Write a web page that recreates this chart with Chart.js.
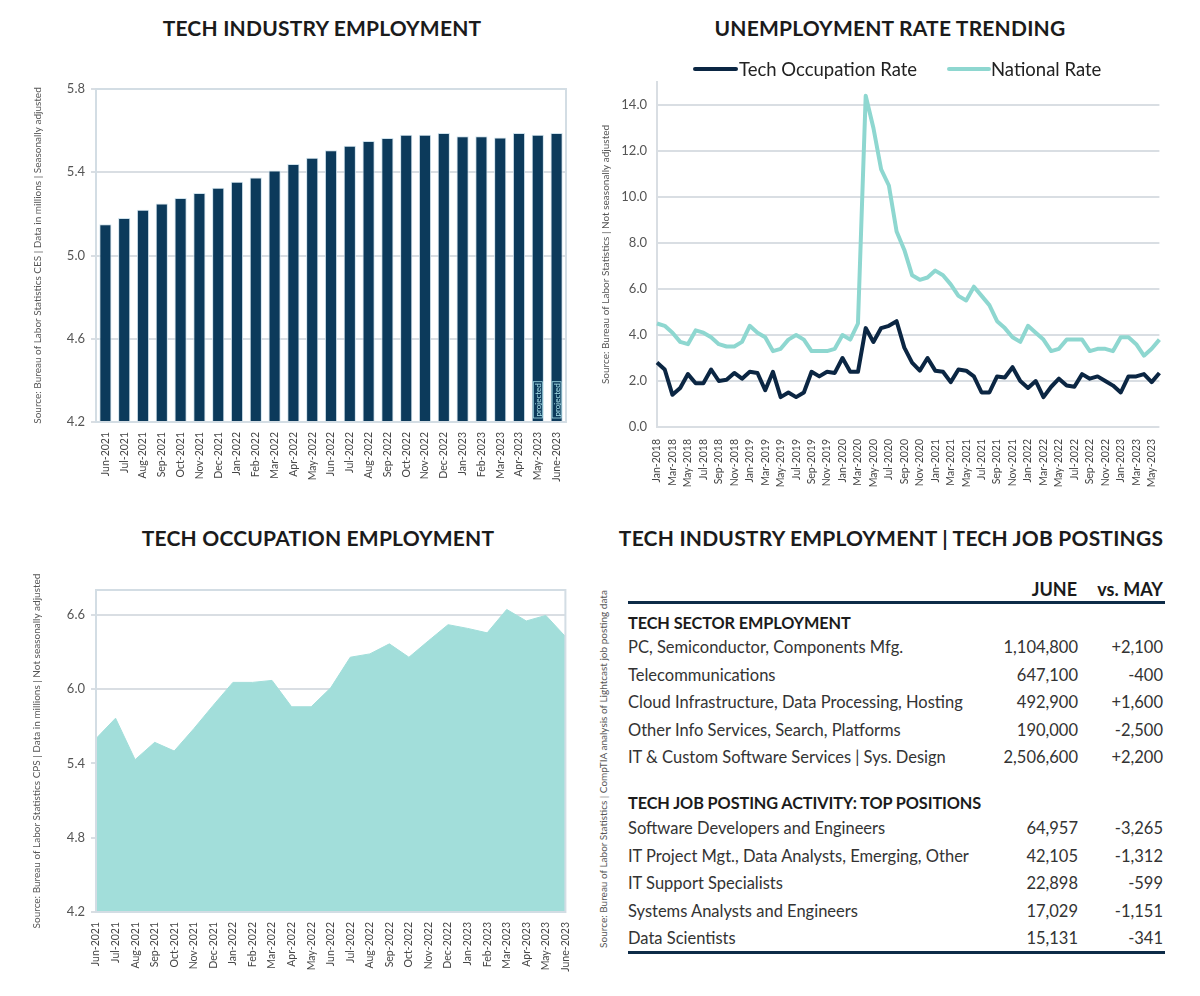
<!DOCTYPE html>
<html><head><meta charset="utf-8">
<script src="https://cdn.jsdelivr.net/npm/chart.js@4.4.0/dist/chart.umd.min.js"></script>
<style>
body{margin:0;background:#fff;width:1200px;height:996px;position:relative;overflow:hidden;font-family:Lato,"Open Sans",sans-serif;}
.title{position:absolute;width:640px;text-align:center;font-weight:bold;font-size:21px;line-height:26px;color:#1b1b1b;white-space:nowrap;letter-spacing:0.2px;}
.wrap{position:absolute;}
.src{position:absolute;font-size:10px;color:#555;white-space:nowrap;transform:rotate(-90deg);transform-origin:center center;}
#tbl{position:absolute;left:628px;top:0;width:537px;color:#333;font-size:16.5px;}
.row{position:absolute;left:0;width:537px;height:26px;line-height:26px;white-space:nowrap;}
.row .n{position:absolute;left:0;}
.row .v{position:absolute;right:87px;text-align:right;}
.row .c{position:absolute;right:2px;text-align:right;}
.sec{position:absolute;left:0;font-weight:bold;color:#1b1b1b;font-size:16.3px;line-height:26px;white-space:nowrap;letter-spacing:-0.1px;}
.rule{position:absolute;left:0;width:537px;height:3px;background:#0d2b47;}
.hdr{position:absolute;font-weight:bold;font-size:18px;color:#1b1b1b;line-height:26px;}
#legend{position:absolute;left:693px;top:57px;height:24px;font-size:18.5px;color:#222;white-space:nowrap;line-height:24px;}
#legend .ln{position:absolute;top:10px;height:4px;border-radius:2px;}
#legend .tx{position:absolute;top:0;}
</style></head>
<body>
<div class="title" style="left:2px;top:15px;">TECH INDUSTRY EMPLOYMENT</div>
<div class="title" style="left:570px;top:15px;">UNEMPLOYMENT RATE TRENDING</div>
<div class="title" style="left:-2px;top:525px;">TECH OCCUPATION EMPLOYMENT</div>
<div class="title" style="left:571px;top:525px;">TECH INDUSTRY EMPLOYMENT | TECH JOB POSTINGS</div>

<div class="wrap" style="left:20px;top:60px;width:560px;height:430px;"><canvas id="c1"></canvas></div>
<div class="wrap" style="left:596px;top:40px;width:580px;height:460px;"><canvas id="c2"></canvas></div>
<div class="wrap" style="left:20px;top:570px;width:560px;height:420px;"><canvas id="c3"></canvas></div>
<div id="legend"></div>

<div class="src" id="src4" style="left:403px;top:763px;width:400px;text-align:center;"></div>
<div id="tbl"></div>

<script>
// ---------- DATA ----------
const industryMonths = ["Jun-2021","Jul-2021","Aug-2021","Sep-2021","Oct-2021","Nov-2021","Dec-2021","Jan-2022","Feb-2022","Mar-2022","Apr-2022","May-2022","Jun-2022","Jul-2022","Aug-2022","Sep-2022","Oct-2022","Nov-2022","Dec-2022","Jan-2023","Feb-2023","Mar-2023","Apr-2023","May-2023","June-2023"];
const industryEmployment = [5.15,5.18,5.22,5.25,5.276,5.30,5.325,5.354,5.375,5.408,5.44,5.47,5.506,5.527,5.55,5.565,5.58,5.58,5.589,5.573,5.573,5.567,5.589,5.58,5.589];
const projectedMonths = ["May-2023","June-2023"];

const rateMonths = ["Jan-2018","Feb-2018","Mar-2018","Apr-2018","May-2018","Jun-2018","Jul-2018","Aug-2018","Sep-2018","Oct-2018","Nov-2018","Dec-2018",
"Jan-2019","Feb-2019","Mar-2019","Apr-2019","May-2019","Jun-2019","Jul-2019","Aug-2019","Sep-2019","Oct-2019","Nov-2019","Dec-2019",
"Jan-2020","Feb-2020","Mar-2020","Apr-2020","May-2020","Jun-2020","Jul-2020","Aug-2020","Sep-2020","Oct-2020","Nov-2020","Dec-2020",
"Jan-2021","Feb-2021","Mar-2021","Apr-2021","May-2021","Jun-2021","Jul-2021","Aug-2021","Sep-2021","Oct-2021","Nov-2021","Dec-2021",
"Jan-2022","Feb-2022","Mar-2022","Apr-2022","May-2022","Jun-2022","Jul-2022","Aug-2022","Sep-2022","Oct-2022","Nov-2022","Dec-2022",
"Jan-2023","Feb-2023","Mar-2023","Apr-2023","May-2023","Jun-2023"];
const techOccupationRate = [2.8,2.5,1.4,1.7,2.3,1.9,1.9,2.5,2.0,2.05,2.35,2.1,
2.4,2.35,1.6,2.4,1.3,1.5,1.3,1.5,2.4,2.2,2.4,2.35,
3.0,2.4,2.4,4.3,3.7,4.3,4.4,4.6,3.45,2.8,2.45,3.0,
2.45,2.4,1.95,2.5,2.45,2.2,1.5,1.5,2.2,2.15,2.6,2.0,
1.7,2.0,1.3,1.75,2.1,1.8,1.75,2.3,2.1,2.2,2.0,1.8,
1.5,2.2,2.2,2.3,1.95,2.35];
const nationalRate = [4.5,4.4,4.1,3.7,3.6,4.2,4.1,3.9,3.6,3.5,3.5,3.7,
4.4,4.1,3.9,3.3,3.4,3.8,4.0,3.8,3.3,3.3,3.3,3.4,
4.0,3.8,4.5,14.4,13.0,11.2,10.5,8.5,7.7,6.6,6.4,6.5,
6.8,6.6,6.2,5.7,5.5,6.1,5.7,5.3,4.6,4.3,3.9,3.7,
4.4,4.1,3.8,3.3,3.4,3.8,3.8,3.8,3.3,3.4,3.4,3.3,
3.9,3.9,3.6,3.1,3.4,3.8];

const occupationMonths = industryMonths;
const occupationEmployment = [5.60,5.765,5.43,5.57,5.50,5.68,5.87,6.054,6.054,6.07,5.857,5.857,6.01,6.257,6.284,6.365,6.257,6.39,6.52,6.49,6.454,6.643,6.55,6.595,6.424];

const sectorNames = ["PC, Semiconductor, Components Mfg.","Telecommunications","Cloud Infrastructure, Data Processing, Hosting","Other Info Services, Search, Platforms","IT & Custom Software Services | Sys. Design"];
const sectorJune = ["1,104,800","647,100","492,900","190,000","2,506,600"];
const sectorVsMay = ["+2,100","-400","+1,600","-2,500","+2,200"];
const postingNames = ["Software Developers and Engineers","IT Project Mgt., Data Analysts, Emerging, Other","IT Support Specialists","Systems Analysts and Engineers","Data Scientists"];
const postingJune = ["64,957","42,105","22,898","17,029","15,131"];
const postingVsMay = ["-3,265","-1,312","-599","-1,151","-341"];

const src1 = "Source: Bureau of Labor Statistics CES | Data in millions | Seasonally adjusted";
const src2 = "Source: Bureau of Labor Statistics | Not seasonally adjusted";
const src3 = "Source: Bureau of Labor Statistics CPS | Data in millions | Not seasonally adjusted";
const src4 = "Source: Bureau of Labor Statistics | CompTIA analysis of Lightcast job posting data";

// ---------- STYLE ----------
const FONT = "Lato, 'Open Sans', sans-serif";
const NAVY = "#0c3a5b";
const DARK = "#0b2643";
const TEAL = "#8ed7d0";
const AREA = "#a2deda";
const GRID = "#d9dee3";
const TICK = "#555";

Chart.defaults.font.family = FONT;
Chart.defaults.animation = false;
Chart.defaults.responsive = true;
Chart.defaults.maintainAspectRatio = false;

const boxPlugin = {
  id: 'box',
  afterDraw(chart, args, opts) {
    if (!opts.on) return;
    const a = chart.chartArea, ctx = chart.ctx;
    ctx.save(); ctx.strokeStyle = "#d3dde4"; ctx.lineWidth = 2;
    ctx.strokeRect(a.left, a.top, a.right - a.left, a.bottom - a.top);
    ctx.restore();
  }
};
const projPlugin = {
  id: 'proj',
  afterDatasetsDraw(chart, args, opts) {
    if (!opts.on) return;
    const meta = chart.getDatasetMeta(0), ctx = chart.ctx;
    projectedMonths.forEach(lbl => {
      const i = chart.data.labels.indexOf(lbl);
      if (i < 0) return;
      const el = meta.data[i];
      const base = chart.scales.y.getPixelForValue(chart.scales.y.min);
      ctx.save();
      ctx.translate(el.x, base - 4);
      ctx.rotate(-Math.PI / 2);
      ctx.font = "8px " + FONT;
      ctx.fillStyle = "#a9e2ec";
      ctx.textAlign = "left"; ctx.textBaseline = "middle";
      ctx.fillText("projected", 1.5, 0.5);
      const w = ctx.measureText("projected").width;
      ctx.strokeStyle = "#a9e2ec"; ctx.lineWidth = 0.8;
      ctx.strokeRect(0, -4.5, w + 3, 9);
      ctx.restore();
    });
  }
};
Chart.register(boxPlugin, projPlugin);

function fixY(w) { return function (s) { s.width = w; }; }
function fixX(h) { return function (s) { s.height = h; }; }

// ---------- Chart 1 ----------
new Chart(document.getElementById('c1'), {
  type: 'bar',
  data: { labels: industryMonths, datasets: [{ data: industryEmployment, backgroundColor: NAVY, borderColor: "#cfe2ec", borderWidth: 1, barPercentage: 0.72, categoryPercentage: 0.9 }] },
  options: {
    layout: { padding: { top: 29, right: 14, left: 0, bottom: 0 } },
    plugins: { legend: { display: false }, tooltip: { enabled: false }, box: { on: true }, proj: { on: true } },
    scales: {
      y: { min: 4.2, max: 5.8, afterFit: fixY(76),
        ticks: { stepSize: 0.4, color: TICK, font: { size: 13 }, padding: 6, callback: v => v.toFixed(1) },
        grid: { color: GRID, lineWidth: 2, tickLength: 5, tickColor: GRID }, border: { display: false },
        title: { display: true, text: src1, color: "#555", font: { size: 10 }, padding: { top: 12, bottom: 0 } } },
      x: { afterFit: fixX(68),
        ticks: { autoSkip: false, maxRotation: 90, minRotation: 90, color: "#444", font: { size: 10.5 }, padding: 2 },
        grid: { display: false }, border: { display: false } }
    }
  }
});

// ---------- Chart 2 ----------
const c2 = new Chart(document.getElementById('c2'), {
  type: 'line',
  data: { labels: rateMonths, datasets: [
    { label: "Tech Occupation Rate", data: techOccupationRate, borderColor: DARK, backgroundColor: DARK, borderWidth: 4, pointRadius: 0, tension: 0, borderJoinStyle: 'round' },
    { label: "National Rate", data: nationalRate, borderColor: TEAL, backgroundColor: TEAL, borderWidth: 4, pointRadius: 0, tension: 0, borderJoinStyle: 'round' }
  ] },
  options: {
    layout: { padding: { top: 42, right: 16, left: 0, bottom: 0 } },
    plugins: { tooltip: { enabled: false }, legend: { display: false } },
    scales: {
      y: { min: 0, max: 15, afterFit: fixY(61),
        afterBuildTicks: s => { s.ticks = s.ticks.filter(t => Math.abs(t.value % 2) < 1e-9); },
        ticks: { stepSize: 2, color: TICK, font: { size: 13 }, padding: 10, callback: v => v.toFixed(1) },
        grid: { color: GRID, lineWidth: 2, drawTicks: false }, border: { display: true, color: GRID, width: 2 },
        title: { display: true, text: src2, color: "#555", font: { size: 10 }, padding: { top: 4, bottom: 0 } } },
      x: { offset: false, afterFit: fixX(73),
        ticks: { autoSkip: false, maxRotation: 90, minRotation: 90, color: "#444", font: { size: 10.5 }, padding: 4,
          callback: function (v, i) { return i % 2 === 0 ? this.getLabelForValue(v) : ''; } },
        grid: { display: false }, border: { display: false } }
    }
  }
});

// HTML legend built from the chart's datasets
(function () {
  const lg = document.getElementById('legend');
  const pos = [{ ln: 0, w: 45, tx: 46 }, { ln: 254, w: 44, tx: 298 }];
  c2.data.datasets.forEach((ds, i) => {
    lg.insertAdjacentHTML('beforeend',
      `<span class="ln" style="left:${pos[i].ln}px;width:${pos[i].w}px;background:${ds.borderColor};"></span><span class="tx" style="left:${pos[i].tx}px;">${ds.label}</span>`);
  });
})();

// ---------- Chart 3 ----------
new Chart(document.getElementById('c3'), {
  type: 'line',
  data: { labels: occupationMonths, datasets: [{ data: occupationEmployment, fill: 'origin', backgroundColor: AREA, borderColor: AREA, borderWidth: 1, pointRadius: 0, tension: 0 }] },
  options: {
    layout: { padding: { top: 20, right: 14, left: 0, bottom: 0 } },
    plugins: { legend: { display: false }, tooltip: { enabled: false }, box: { on: true } },
    scales: {
      y: { min: 4.2, max: 6.8, afterFit: fixY(76),
        afterBuildTicks: s => { s.ticks = s.ticks.filter(t => t.value < 6.7); },
        ticks: { stepSize: 0.6, color: TICK, font: { size: 13 }, padding: 6, callback: v => v.toFixed(1) },
        grid: { color: GRID, lineWidth: 2, tickLength: 5, tickColor: GRID }, border: { display: false },
        title: { display: true, text: src3, color: "#555", font: { size: 10 }, padding: { top: 11, bottom: 0 } } },
      x: { offset: false, afterFit: fixX(78),
        ticks: { autoSkip: false, maxRotation: 90, minRotation: 90, color: "#444", font: { size: 10.5 }, padding: 2 },
        grid: { display: false }, border: { display: false } }
    }
  }
});

// ---------- Table ----------
document.getElementById('src4').textContent = src4;
const tbl = document.getElementById('tbl');
function add(html) { tbl.insertAdjacentHTML('beforeend', html); }
add('<div class="hdr" style="top:576px;right:88px;">JUNE</div>');
add('<div class="hdr" style="top:576px;right:2px;">vs. MAY</div>');
add('<div class="rule" style="top:601px;"></div>');
add('<div class="sec" style="top:610px;">TECH SECTOR EMPLOYMENT</div>');
sectorNames.forEach((n, i) => {
  add(`<div class="row" style="top:${634 + i * 27.5}px;"><span class="n">${n.replace(/&/g,'&amp;')}</span><span class="v">${sectorJune[i]}</span><span class="c">${sectorVsMay[i]}</span></div>`);
});
add('<div class="sec" style="top:790px;">TECH JOB POSTING ACTIVITY: TOP POSITIONS</div>');
postingNames.forEach((n, i) => {
  add(`<div class="row" style="top:${815 + i * 27.5}px;"><span class="n">${n}</span><span class="v">${postingJune[i]}</span><span class="c">${postingVsMay[i]}</span></div>`);
});
add('<div class="rule" style="top:951px;"></div>');
</script>
</body></html>
